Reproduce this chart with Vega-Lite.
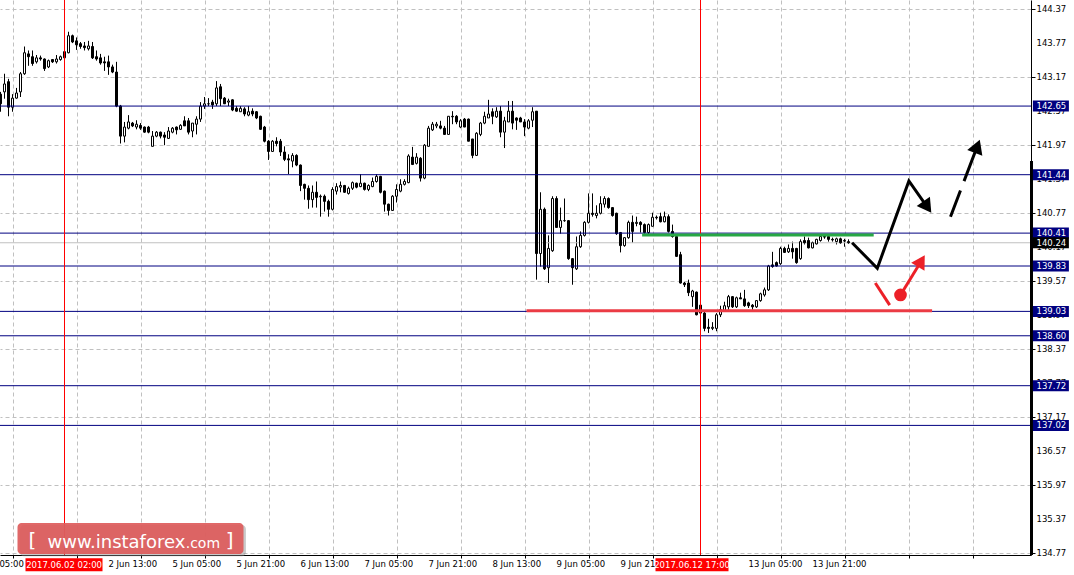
{
"$schema": "https://vega.github.io/schema/vega-lite/v6.json",
"width": 1031,
"height": 555,
"autosize": {"type": "none"},
"padding": {"left": 0, "top": 0, "right": 43, "bottom": 20},
"background": "white",
"config": {
 "view": {"stroke": null},
 "text": {"font": "DejaVu Sans"},
 "scale": {"continuousPadding": 0},
 "axis": {"labels": false, "title": null, "gridColor": "#c0c0c0", "gridDash": [4,3], "gridWidth": 1, "domainColor": "black", "domainWidth": 1, "tickColor": "black"},
 "axisX": {"tickSize": 3},
 "axisY": {"tickSize": 4}
},
"datasets": {
"candles": [
{"i":0,"o":142.86,"h":142.90,"l":142.55,"c":142.69},
{"i":1,"o":142.90,"h":143.22,"l":142.78,"c":143.04},
{"i":2,"o":143.08,"h":143.13,"l":142.47,"c":142.63},
{"i":3,"o":142.63,"h":142.86,"l":142.55,"c":142.79},
{"i":4,"o":142.79,"h":142.97,"l":142.78,"c":142.88},
{"i":5,"o":142.90,"h":143.25,"l":142.81,"c":143.22},
{"i":6,"o":143.22,"h":143.70,"l":143.20,"c":143.59},
{"i":7,"o":143.57,"h":143.63,"l":143.36,"c":143.52},
{"i":8,"o":143.52,"h":143.63,"l":143.36,"c":143.40},
{"i":9,"o":143.43,"h":143.55,"l":143.40,"c":143.50},
{"i":10,"o":143.50,"h":143.54,"l":143.45,"c":143.48},
{"i":11,"o":143.48,"h":143.49,"l":143.27,"c":143.31},
{"i":12,"o":143.34,"h":143.47,"l":143.32,"c":143.45},
{"i":13,"o":143.47,"h":143.48,"l":143.41,"c":143.43},
{"i":14,"o":143.43,"h":143.55,"l":143.40,"c":143.48},
{"i":15,"o":143.47,"h":143.54,"l":143.45,"c":143.52},
{"i":16,"o":143.50,"h":143.63,"l":143.48,"c":143.61},
{"i":17,"o":143.59,"h":143.96,"l":143.58,"c":143.89},
{"i":18,"o":143.89,"h":143.91,"l":143.76,"c":143.78},
{"i":19,"o":143.80,"h":143.86,"l":143.64,"c":143.73},
{"i":20,"o":143.75,"h":143.78,"l":143.66,"c":143.70},
{"i":21,"o":143.71,"h":143.78,"l":143.63,"c":143.68},
{"i":22,"o":143.66,"h":143.80,"l":143.63,"c":143.71},
{"i":23,"o":143.70,"h":143.78,"l":143.48,"c":143.50},
{"i":24,"o":143.52,"h":143.63,"l":143.45,"c":143.48},
{"i":25,"o":143.50,"h":143.57,"l":143.38,"c":143.41},
{"i":26,"o":143.43,"h":143.52,"l":143.27,"c":143.41},
{"i":27,"o":143.43,"h":143.54,"l":143.20,"c":143.34},
{"i":28,"o":143.34,"h":143.38,"l":143.23,"c":143.25},
{"i":29,"o":143.25,"h":143.43,"l":142.63,"c":142.65},
{"i":30,"o":142.65,"h":142.67,"l":141.99,"c":142.12},
{"i":31,"o":142.12,"h":142.37,"l":142.01,"c":142.28},
{"i":32,"o":142.26,"h":142.49,"l":142.24,"c":142.37},
{"i":33,"o":142.35,"h":142.37,"l":142.28,"c":142.30},
{"i":34,"o":142.28,"h":142.40,"l":142.24,"c":142.33},
{"i":35,"o":142.31,"h":142.35,"l":142.23,"c":142.26},
{"i":36,"o":142.28,"h":142.29,"l":142.18,"c":142.19},
{"i":37,"o":142.28,"h":142.30,"l":142.17,"c":142.19},
{"i":38,"o":141.94,"h":142.21,"l":141.94,"c":142.12},
{"i":39,"o":142.12,"h":142.21,"l":142.10,"c":142.19},
{"i":40,"o":142.19,"h":142.20,"l":142.08,"c":142.12},
{"i":41,"o":142.14,"h":142.19,"l":141.96,"c":142.10},
{"i":42,"o":142.08,"h":142.28,"l":142.07,"c":142.21},
{"i":43,"o":142.19,"h":142.28,"l":142.17,"c":142.26},
{"i":44,"o":142.28,"h":142.29,"l":142.15,"c":142.23},
{"i":45,"o":142.24,"h":142.33,"l":142.23,"c":142.31},
{"i":46,"o":142.39,"h":142.47,"l":142.30,"c":142.30},
{"i":47,"o":142.39,"h":142.44,"l":142.15,"c":142.19},
{"i":48,"o":142.21,"h":142.35,"l":142.10,"c":142.35},
{"i":49,"o":142.33,"h":142.47,"l":142.15,"c":142.42},
{"i":50,"o":142.42,"h":142.72,"l":142.37,"c":142.65},
{"i":51,"o":142.65,"h":142.81,"l":142.60,"c":142.69},
{"i":52,"o":142.69,"h":142.79,"l":142.65,"c":142.69},
{"i":53,"o":142.72,"h":142.76,"l":142.60,"c":142.67},
{"i":54,"o":142.69,"h":143.09,"l":142.65,"c":142.97},
{"i":55,"o":142.99,"h":143.04,"l":142.65,"c":142.78},
{"i":56,"o":142.79,"h":142.81,"l":142.69,"c":142.69},
{"i":57,"o":142.72,"h":142.78,"l":142.65,"c":142.74},
{"i":58,"o":142.76,"h":142.77,"l":142.56,"c":142.58},
{"i":59,"o":142.61,"h":142.65,"l":142.55,"c":142.56},
{"i":60,"o":142.55,"h":142.65,"l":142.55,"c":142.61},
{"i":61,"o":142.60,"h":142.63,"l":142.47,"c":142.51},
{"i":62,"o":142.49,"h":142.65,"l":142.47,"c":142.55},
{"i":63,"o":142.56,"h":142.61,"l":142.47,"c":142.51},
{"i":64,"o":142.55,"h":142.56,"l":142.42,"c":142.44},
{"i":65,"o":142.47,"h":142.48,"l":142.23,"c":142.24},
{"i":66,"o":142.28,"h":142.30,"l":142.01,"c":142.03},
{"i":67,"o":142.03,"h":142.05,"l":141.70,"c":141.85},
{"i":68,"o":141.85,"h":142.05,"l":141.84,"c":142.03},
{"i":69,"o":142.03,"h":142.10,"l":141.94,"c":141.99},
{"i":70,"o":142.03,"h":142.07,"l":141.77,"c":141.84},
{"i":71,"o":141.84,"h":141.94,"l":141.68,"c":141.71},
{"i":72,"o":141.72,"h":141.80,"l":141.45,"c":141.70},
{"i":73,"o":141.68,"h":141.82,"l":141.57,"c":141.78},
{"i":74,"o":141.78,"h":141.80,"l":141.59,"c":141.61},
{"i":75,"o":141.61,"h":141.62,"l":141.15,"c":141.25},
{"i":76,"o":141.27,"h":141.28,"l":141.00,"c":141.20},
{"i":77,"o":141.20,"h":141.25,"l":140.84,"c":141.00},
{"i":78,"o":141.00,"h":141.25,"l":140.86,"c":141.13},
{"i":79,"o":141.13,"h":141.32,"l":140.86,"c":141.04},
{"i":80,"o":141.05,"h":141.09,"l":140.70,"c":141.06},
{"i":81,"o":141.06,"h":141.09,"l":140.79,"c":140.97},
{"i":82,"o":140.97,"h":141.00,"l":140.70,"c":140.83},
{"i":83,"o":140.83,"h":141.22,"l":140.81,"c":141.18},
{"i":84,"o":141.15,"h":141.29,"l":141.09,"c":141.23},
{"i":85,"o":141.22,"h":141.32,"l":141.13,"c":141.25},
{"i":86,"o":141.25,"h":141.26,"l":141.12,"c":141.13},
{"i":87,"o":141.11,"h":141.23,"l":141.09,"c":141.20},
{"i":88,"o":141.20,"h":141.32,"l":141.17,"c":141.30},
{"i":89,"o":141.29,"h":141.30,"l":141.20,"c":141.22},
{"i":90,"o":141.23,"h":141.45,"l":141.22,"c":141.29},
{"i":91,"o":141.29,"h":141.30,"l":141.16,"c":141.18},
{"i":92,"o":141.18,"h":141.27,"l":141.15,"c":141.25},
{"i":93,"o":141.23,"h":141.39,"l":141.22,"c":141.32},
{"i":94,"o":141.32,"h":141.45,"l":141.30,"c":141.41},
{"i":95,"o":141.41,"h":141.42,"l":141.11,"c":141.13},
{"i":96,"o":141.15,"h":141.16,"l":140.79,"c":140.92},
{"i":97,"o":140.92,"h":140.93,"l":140.72,"c":140.81},
{"i":98,"o":140.81,"h":141.08,"l":140.80,"c":141.06},
{"i":99,"o":141.06,"h":141.27,"l":140.95,"c":141.18},
{"i":100,"o":141.15,"h":141.36,"l":141.13,"c":141.27},
{"i":101,"o":141.27,"h":141.36,"l":141.25,"c":141.32},
{"i":102,"o":141.30,"h":141.80,"l":141.29,"c":141.77},
{"i":103,"o":141.75,"h":141.93,"l":141.61,"c":141.62},
{"i":104,"o":141.64,"h":141.82,"l":141.62,"c":141.75},
{"i":105,"o":141.73,"h":141.75,"l":141.32,"c":141.38},
{"i":106,"o":141.38,"h":141.98,"l":141.36,"c":141.96},
{"i":107,"o":141.94,"h":142.30,"l":141.94,"c":142.26},
{"i":108,"o":142.23,"h":142.37,"l":142.21,"c":142.33},
{"i":109,"o":142.30,"h":142.37,"l":142.26,"c":142.33},
{"i":110,"o":142.30,"h":142.39,"l":142.24,"c":142.26},
{"i":111,"o":142.26,"h":142.30,"l":142.14,"c":142.15},
{"i":112,"o":142.15,"h":142.47,"l":142.15,"c":142.47},
{"i":113,"o":142.47,"h":142.56,"l":142.33,"c":142.46},
{"i":114,"o":142.47,"h":142.49,"l":142.33,"c":142.37},
{"i":115,"o":142.28,"h":142.42,"l":142.26,"c":142.39},
{"i":116,"o":142.42,"h":142.44,"l":142.28,"c":142.28},
{"i":117,"o":142.42,"h":142.43,"l":142.03,"c":142.03},
{"i":118,"o":142.07,"h":142.07,"l":141.73,"c":141.78},
{"i":119,"o":141.78,"h":142.19,"l":141.77,"c":142.17},
{"i":120,"o":142.15,"h":142.37,"l":142.12,"c":142.35},
{"i":121,"o":142.35,"h":142.55,"l":142.33,"c":142.47},
{"i":122,"o":142.44,"h":142.76,"l":142.44,"c":142.51},
{"i":123,"o":142.55,"h":142.61,"l":142.33,"c":142.47},
{"i":124,"o":142.46,"h":142.63,"l":142.44,"c":142.56},
{"i":125,"o":142.56,"h":142.65,"l":142.10,"c":142.19},
{"i":126,"o":142.19,"h":142.46,"l":141.91,"c":142.39},
{"i":127,"o":142.37,"h":142.74,"l":142.37,"c":142.56},
{"i":128,"o":142.56,"h":142.74,"l":142.24,"c":142.35},
{"i":129,"o":142.44,"h":142.45,"l":142.23,"c":142.40},
{"i":130,"o":142.44,"h":142.46,"l":142.37,"c":142.37},
{"i":131,"o":142.37,"h":142.42,"l":142.12,"c":142.28},
{"i":132,"o":142.26,"h":142.42,"l":142.24,"c":142.39},
{"i":133,"o":142.40,"h":142.63,"l":142.28,"c":142.55},
{"i":134,"o":142.56,"h":142.56,"l":139.59,"c":140.05},
{"i":135,"o":140.05,"h":141.13,"l":139.82,"c":140.83},
{"i":136,"o":140.83,"h":140.86,"l":139.76,"c":139.78},
{"i":137,"o":139.80,"h":140.37,"l":139.53,"c":140.14},
{"i":138,"o":140.10,"h":141.06,"l":140.08,"c":141.02},
{"i":139,"o":141.02,"h":141.06,"l":140.51,"c":140.51},
{"i":140,"o":140.51,"h":140.86,"l":140.40,"c":140.63},
{"i":141,"o":140.63,"h":141.02,"l":140.61,"c":140.63},
{"i":142,"o":140.63,"h":140.64,"l":139.94,"c":139.96},
{"i":143,"o":139.96,"h":139.97,"l":139.50,"c":139.80},
{"i":144,"o":139.78,"h":140.35,"l":139.76,"c":140.17},
{"i":145,"o":140.17,"h":140.44,"l":140.15,"c":140.37},
{"i":146,"o":140.37,"h":140.62,"l":140.35,"c":140.60},
{"i":147,"o":140.60,"h":141.11,"l":140.58,"c":140.76},
{"i":148,"o":140.76,"h":141.11,"l":140.70,"c":140.74},
{"i":149,"o":140.72,"h":140.90,"l":140.67,"c":140.76},
{"i":150,"o":140.76,"h":141.06,"l":140.74,"c":140.93},
{"i":151,"o":140.92,"h":141.06,"l":140.86,"c":141.02},
{"i":152,"o":141.02,"h":141.04,"l":140.84,"c":140.86},
{"i":153,"o":140.86,"h":140.87,"l":140.70,"c":140.72},
{"i":154,"o":140.76,"h":140.77,"l":140.38,"c":140.40},
{"i":155,"o":140.42,"h":140.43,"l":140.07,"c":140.19},
{"i":156,"o":140.19,"h":140.34,"l":140.17,"c":140.33},
{"i":157,"o":140.33,"h":140.63,"l":140.31,"c":140.60},
{"i":158,"o":140.60,"h":140.72,"l":140.24,"c":140.44},
{"i":159,"o":140.58,"h":140.70,"l":140.53,"c":140.60},
{"i":160,"o":140.60,"h":140.62,"l":140.42,"c":140.56},
{"i":161,"o":140.56,"h":140.58,"l":140.40,"c":140.42},
{"i":162,"o":140.42,"h":140.58,"l":140.38,"c":140.56},
{"i":163,"o":140.53,"h":140.77,"l":140.53,"c":140.69},
{"i":164,"o":140.69,"h":140.72,"l":140.65,"c":140.68},
{"i":165,"o":140.70,"h":140.77,"l":140.60,"c":140.61},
{"i":166,"o":140.61,"h":140.79,"l":140.60,"c":140.70},
{"i":167,"o":140.70,"h":140.74,"l":140.42,"c":140.44},
{"i":168,"o":140.44,"h":140.56,"l":140.33,"c":140.35},
{"i":169,"o":140.35,"h":140.36,"l":139.99,"c":140.00},
{"i":170,"o":140.03,"h":140.08,"l":139.52,"c":139.53},
{"i":171,"o":139.53,"h":139.55,"l":139.46,"c":139.50},
{"i":172,"o":139.53,"h":139.59,"l":139.30,"c":139.36},
{"i":173,"o":139.29,"h":139.41,"l":139.11,"c":139.39},
{"i":174,"o":139.37,"h":139.38,"l":138.96,"c":138.97},
{"i":175,"o":139.14,"h":139.16,"l":138.98,"c":139.00},
{"i":176,"o":139.00,"h":139.02,"l":138.68,"c":138.73},
{"i":177,"o":138.75,"h":138.90,"l":138.65,"c":138.73},
{"i":178,"o":138.73,"h":138.84,"l":138.70,"c":138.75},
{"i":179,"o":138.73,"h":139.00,"l":138.68,"c":138.97},
{"i":180,"o":138.97,"h":139.13,"l":138.93,"c":139.06},
{"i":181,"o":139.04,"h":139.20,"l":139.02,"c":139.13},
{"i":182,"o":139.11,"h":139.32,"l":139.06,"c":139.29},
{"i":183,"o":139.29,"h":139.30,"l":139.09,"c":139.11},
{"i":184,"o":139.11,"h":139.29,"l":139.09,"c":139.27},
{"i":185,"o":139.27,"h":139.36,"l":139.25,"c":139.25},
{"i":186,"o":139.25,"h":139.41,"l":139.11,"c":139.13},
{"i":187,"o":139.18,"h":139.20,"l":139.09,"c":139.13},
{"i":188,"o":139.14,"h":139.16,"l":139.06,"c":139.11},
{"i":189,"o":139.11,"h":139.23,"l":139.09,"c":139.22},
{"i":190,"o":139.22,"h":139.36,"l":139.20,"c":139.34},
{"i":191,"o":139.32,"h":139.45,"l":139.29,"c":139.41},
{"i":192,"o":139.41,"h":139.85,"l":139.39,"c":139.83},
{"i":193,"o":139.85,"h":140.08,"l":139.80,"c":139.82},
{"i":194,"o":139.89,"h":139.91,"l":139.82,"c":139.83},
{"i":195,"o":139.87,"h":140.17,"l":139.85,"c":140.14},
{"i":196,"o":140.14,"h":140.17,"l":140.06,"c":140.07},
{"i":197,"o":140.08,"h":140.21,"l":140.06,"c":140.14},
{"i":198,"o":140.14,"h":140.26,"l":139.96,"c":140.08},
{"i":199,"o":140.14,"h":140.15,"l":139.87,"c":139.89},
{"i":200,"o":139.96,"h":140.30,"l":139.94,"c":140.26},
{"i":201,"o":140.28,"h":140.35,"l":140.21,"c":140.24},
{"i":202,"o":140.28,"h":140.33,"l":140.14,"c":140.15},
{"i":203,"o":140.15,"h":140.26,"l":140.14,"c":140.24},
{"i":204,"o":140.22,"h":140.31,"l":140.21,"c":140.30},
{"i":205,"o":140.28,"h":140.37,"l":140.26,"c":140.35},
{"i":206,"o":140.35,"h":140.37,"l":140.31,"c":140.34},
{"i":207,"o":140.35,"h":140.37,"l":140.26,"c":140.30},
{"i":208,"o":140.30,"h":140.33,"l":140.26,"c":140.29},
{"i":209,"o":140.26,"h":140.33,"l":140.21,"c":140.31},
{"i":210,"o":140.31,"h":140.33,"l":140.22,"c":140.24},
{"i":211,"o":140.27,"h":140.31,"l":140.17,"c":140.28},
{"i":212,"o":140.26,"h":140.30,"l":140.22,"c":140.24}
],
"levels": [{"p":142.65},{"p":141.44},{"p":140.41},{"p":139.83},{"p":139.03},{"p":138.60},{"p":137.72},{"p":137.02}],
"bid": [{"p":140.24}],
"ylabels": [{"p":144.37},{"p":143.77},{"p":143.17},{"p":142.57},{"p":141.97},{"p":141.37},{"p":140.77},{"p":140.17},{"p":139.57},{"p":138.97},{"p":138.37},{"p":137.77},{"p":137.17},{"p":136.57},{"p":135.97},{"p":135.37},{"p":134.77}],
"xlabels": [{"i":-6.3,"t":"1 Jun 05:00"},{"i":27,"t":"2 Jun 13:00"},{"i":43,"t":"5 Jun 05:00"},{"i":59,"t":"5 Jun 21:00"},{"i":75,"t":"6 Jun 13:00"},{"i":91,"t":"7 Jun 05:00"},{"i":107,"t":"7 Jun 21:00"},{"i":123,"t":"8 Jun 13:00"},{"i":139,"t":"9 Jun 05:00"},{"i":155,"t":"9 Jun 21:00"},{"i":187,"t":"13 Jun 05:00"},{"i":203,"t":"13 Jun 21:00"}],
"vlines": [{"i":16},{"i":175}],
"dateboxes": [{"i0":6.25,"i1":25.5,"ic":15.9,"t":"2017.06.02 02:00"},{"i0":163.75,"i1":182,"ic":172.9,"t":"2017.06.12 17:00"}],
"levelsegs": [{"i":160.4,"i2":218.3,"p":140.377,"kind":"resistance"},{"i":131.5,"i2":232.9,"p":139.042,"kind":"support"}],
"trend": [{"k":0,"i":212.9,"p":140.24},{"k":1,"i":219.2,"p":139.79},{"k":2,"i":227.1,"p":141.33},{"k":3,"i":231.7,"p":140.87}],
"trend2": [{"k":0,"i":237.5,"p":140.70},{"k":1,"i":244.2,"p":141.94}],
"redlines": [{"g":"a","k":0,"i":218.7,"p":139.53},{"g":"a","k":1,"i":222.3,"p":139.14},{"g":"b","k":0,"i":225,"p":139.32},{"g":"b","k":1,"i":230.2,"p":139.92}],
"heads": [{"name":"trend","i":231.7,"p":140.87},{"name":"trend2","i":244.2,"p":141.94},{"name":"red","i":230.2,"p":139.92}],
"dot": [{"i":225,"p":139.32}],
"one": [{"label":"instaforex"}]
},
"layer": [
{"data":{"name":"candles"},"mark":{"type":"rule","color":"black","strokeWidth":1},
 "encoding":{
  "x":{"field":"i","type":"quantitative","scale":{"domain":[-0.125,257.625],"nice":false,"zero":false,"padding":0},
   "axis":{"orient":"bottom","title":null,"labels":false,"values":[3,11,19,27,35,43,51,59,67,75,83,91,99,107,115,123,131,139,147,155,163,171,179,187,195,203,211,219,227,235,243,251],"grid":true,"tickSize":3}},
  "y":{"field":"l","type":"quantitative","scale":{"domain":[134.735,144.52],"nice":false,"zero":false,"padding":0},
   "axis":{"orient":"right","title":null,"labels":false,"values":[144.37,143.77,143.17,142.57,141.97,141.37,140.77,140.17,139.57,138.97,138.37,137.77,137.17,136.57,135.97,135.37,134.77],"grid":true,"tickSize":4}},
  "y2":{"field":"h"}}},
{"data":{"name":"bid"},"mark":{"type":"rule","color":"#c0c0c0","strokeWidth":1},
 "encoding":{"y":{"field":"p","type":"quantitative","scale":{"domain":[134.735,144.52],"nice":false,"zero":false,"padding":0},"axis":{"title":null,"labels":false}}}},
{"data":{"name":"candles"},"mark":{"type":"bar","size":2,"stroke":"black","strokeWidth":1},
 "encoding":{
  "x":{"field":"i","type":"quantitative","scale":{"domain":[-0.125,257.625],"nice":false,"zero":false,"padding":0},"axis":{"title":null,"labels":false}},
  "y":{"field":"o","type":"quantitative","scale":{"domain":[134.735,144.52],"nice":false,"zero":false,"padding":0},"axis":{"title":null,"labels":false}},
  "y2":{"field":"c"},
  "fill":{"condition":{"test":"datum.c >= datum.o","value":"white"},"value":"black"}}},
{"data":{"name":"levels"},"mark":{"type":"rule","color":"#000080","strokeWidth":1},
 "encoding":{"y":{"field":"p","type":"quantitative","scale":{"domain":[134.735,144.52],"nice":false,"zero":false,"padding":0},"axis":{"title":null,"labels":false}}}},
{"data":{"name":"vlines"},"mark":{"type":"rule","color":"#ff0000","strokeWidth":1},
 "encoding":{"x":{"field":"i","type":"quantitative","scale":{"domain":[-0.125,257.625],"nice":false,"zero":false,"padding":0},"axis":{"title":null,"labels":false}}}},
{"data":{"name":"levelsegs"},"mark":{"type":"rule","strokeWidth":3},
 "encoding":{
  "x":{"field":"i","type":"quantitative","scale":{"domain":[-0.125,257.625],"nice":false,"zero":false,"padding":0},"axis":{"title":null,"labels":false}},
  "x2":{"field":"i2"},
  "y":{"field":"p","type":"quantitative","scale":{"domain":[134.735,144.52],"nice":false,"zero":false,"padding":0},"axis":{"title":null,"labels":false}},
  "color":{"field":"kind","type":"nominal","scale":{"domain":["resistance","support"],"range":["#27a844","#eb3b45"]},"legend":null}}},
{"data":{"name":"trend"},"mark":{"type":"line","color":"black","strokeWidth":3,"strokeJoin":"miter"},
 "encoding":{
  "x":{"field":"i","type":"quantitative","scale":{"domain":[-0.125,257.625],"nice":false,"zero":false,"padding":0},"axis":{"title":null,"labels":false}},
  "y":{"field":"p","type":"quantitative","scale":{"domain":[134.735,144.52],"nice":false,"zero":false,"padding":0},"axis":{"title":null,"labels":false}},
  "order":{"field":"k"}}},
{"data":{"name":"trend2"},"mark":{"type":"line","color":"black","strokeWidth":3,"strokeDash":[28,10,100,10]},
 "encoding":{
  "x":{"field":"i","type":"quantitative","scale":{"domain":[-0.125,257.625],"nice":false,"zero":false,"padding":0},"axis":{"title":null,"labels":false}},
  "y":{"field":"p","type":"quantitative","scale":{"domain":[134.735,144.52],"nice":false,"zero":false,"padding":0},"axis":{"title":null,"labels":false}},
  "order":{"field":"k"}}},
{"data":{"name":"redlines"},"mark":{"type":"line","color":"#ec2028","strokeWidth":3},
 "encoding":{
  "x":{"field":"i","type":"quantitative","scale":{"domain":[-0.125,257.625],"nice":false,"zero":false,"padding":0},"axis":{"title":null,"labels":false}},
  "y":{"field":"p","type":"quantitative","scale":{"domain":[134.735,144.52],"nice":false,"zero":false,"padding":0},"axis":{"title":null,"labels":false}},
  "detail":{"field":"g"},
  "order":{"field":"k"}}},
{"data":{"name":"heads"},"transform":[{"filter":"datum.name == 'trend'"}],
 "mark":{"type":"point","shape":"triangle-up","filled":true,"color":"black","opacity":1,"size":260,"angle":145},
 "encoding":{
  "x":{"field":"i","type":"quantitative","scale":{"domain":[-0.125,257.625],"nice":false,"zero":false,"padding":0},"axis":{"title":null,"labels":false}},
  "y":{"field":"p","type":"quantitative","scale":{"domain":[134.735,144.52],"nice":false,"zero":false,"padding":0},"axis":{"title":null,"labels":false}}}},
{"data":{"name":"heads"},"transform":[{"filter":"datum.name == 'trend2'"}],
 "mark":{"type":"point","shape":"triangle-up","filled":true,"color":"black","opacity":1,"size":260,"angle":21},
 "encoding":{
  "x":{"field":"i","type":"quantitative","scale":{"domain":[-0.125,257.625],"nice":false,"zero":false,"padding":0},"axis":{"title":null,"labels":false}},
  "y":{"field":"p","type":"quantitative","scale":{"domain":[134.735,144.52],"nice":false,"zero":false,"padding":0},"axis":{"title":null,"labels":false}}}},
{"data":{"name":"heads"},"transform":[{"filter":"datum.name == 'red'"}],
 "mark":{"type":"point","shape":"triangle-up","filled":true,"color":"#ec2028","opacity":1,"size":240,"angle":31},
 "encoding":{
  "x":{"field":"i","type":"quantitative","scale":{"domain":[-0.125,257.625],"nice":false,"zero":false,"padding":0},"axis":{"title":null,"labels":false}},
  "y":{"field":"p","type":"quantitative","scale":{"domain":[134.735,144.52],"nice":false,"zero":false,"padding":0},"axis":{"title":null,"labels":false}}}},
{"data":{"name":"dot"},"mark":{"type":"point","shape":"circle","filled":true,"color":"#ec2028","opacity":1,"size":160},
 "encoding":{
  "x":{"field":"i","type":"quantitative","scale":{"domain":[-0.125,257.625],"nice":false,"zero":false,"padding":0},"axis":{"title":null,"labels":false}},
  "y":{"field":"p","type":"quantitative","scale":{"domain":[134.735,144.52],"nice":false,"zero":false,"padding":0},"axis":{"title":null,"labels":false}}}},
{"data":{"name":"one"},"mark":{"type":"rule","color":"black","strokeWidth":3},
 "encoding":{
  "x":{"datum":257.75,"type":"quantitative","scale":{"domain":[-0.125,257.625],"nice":false,"zero":false,"padding":0},"axis":{"title":null,"labels":false}},
  "y":{"datum":141.68,"type":"quantitative","scale":{"domain":[134.735,144.52],"nice":false,"zero":false,"padding":0},"axis":{"title":null,"labels":false}},
  "y2":{"datum":134.735}}},
{"data":{"name":"ylabels"},"mark":{"type":"text","color":"black","font":"DejaVu Sans","fontSize":8.5,"align":"left","baseline":"middle"},
 "encoding":{
  "x":{"datum":259.0,"type":"quantitative","scale":{"domain":[-0.125,257.625],"nice":false,"zero":false,"padding":0},"axis":{"title":null,"labels":false}},
  "y":{"field":"p","type":"quantitative","scale":{"domain":[134.735,144.52],"nice":false,"zero":false,"padding":0},"axis":{"title":null,"labels":false}},
  "text":{"field":"p","type":"quantitative","format":".2f"}}},
{"data":{"name":"xlabels"},"mark":{"type":"text","color":"black","font":"DejaVu Sans","fontSize":8.5,"align":"left","baseline":"top"},
 "encoding":{
  "x":{"field":"i","type":"quantitative","scale":{"domain":[-0.125,257.625],"nice":false,"zero":false,"padding":0},"axis":{"title":null,"labels":false}},
  "y":{"datum":134.647,"type":"quantitative","scale":{"domain":[134.735,144.52],"nice":false,"zero":false,"padding":0},"axis":{"title":null,"labels":false}},
  "text":{"field":"t"}}},
{"data":{"name":"levels"},"mark":{"type":"bar","color":"#000080","size":11},
 "encoding":{
  "x":{"datum":258.1,"type":"quantitative","scale":{"domain":[-0.125,257.625],"nice":false,"zero":false,"padding":0},"axis":{"title":null,"labels":false}},
  "x2":{"datum":267.1},
  "y":{"field":"p","type":"quantitative","scale":{"domain":[134.735,144.52],"nice":false,"zero":false,"padding":0},"axis":{"title":null,"labels":false}}}},
{"data":{"name":"levels"},"mark":{"type":"text","color":"white","font":"DejaVu Sans","fontSize":8.5,"align":"left","baseline":"middle"},
 "encoding":{
  "x":{"datum":259.0,"type":"quantitative","scale":{"domain":[-0.125,257.625],"nice":false,"zero":false,"padding":0},"axis":{"title":null,"labels":false}},
  "y":{"field":"p","type":"quantitative","scale":{"domain":[134.735,144.52],"nice":false,"zero":false,"padding":0},"axis":{"title":null,"labels":false}},
  "text":{"field":"p","type":"quantitative","format":".2f"}}},
{"data":{"name":"bid"},"mark":{"type":"bar","color":"black","size":11},
 "encoding":{
  "x":{"datum":258.1,"type":"quantitative","scale":{"domain":[-0.125,257.625],"nice":false,"zero":false,"padding":0},"axis":{"title":null,"labels":false}},
  "x2":{"datum":267.1},
  "y":{"field":"p","type":"quantitative","scale":{"domain":[134.735,144.52],"nice":false,"zero":false,"padding":0},"axis":{"title":null,"labels":false}}}},
{"data":{"name":"bid"},"mark":{"type":"text","color":"white","font":"DejaVu Sans","fontSize":8.5,"align":"left","baseline":"middle"},
 "encoding":{
  "x":{"datum":259.0,"type":"quantitative","scale":{"domain":[-0.125,257.625],"nice":false,"zero":false,"padding":0},"axis":{"title":null,"labels":false}},
  "y":{"field":"p","type":"quantitative","scale":{"domain":[134.735,144.52],"nice":false,"zero":false,"padding":0},"axis":{"title":null,"labels":false}},
  "text":{"field":"p","type":"quantitative","format":".2f"}}},
{"data":{"name":"dateboxes"},"mark":{"type":"bar","color":"#ff0000","size":13},
 "encoding":{
  "x":{"field":"i0","type":"quantitative","scale":{"domain":[-0.125,257.625],"nice":false,"zero":false,"padding":0},"axis":{"title":null,"labels":false}},
  "x2":{"field":"i1"},
  "y":{"datum":134.565,"type":"quantitative","scale":{"domain":[134.735,144.52],"nice":false,"zero":false,"padding":0},"axis":{"title":null,"labels":false}}}},
{"data":{"name":"dateboxes"},"mark":{"type":"text","color":"white","font":"DejaVu Sans","fontSize":8.5,"align":"center","baseline":"middle"},
 "encoding":{
  "x":{"field":"ic","type":"quantitative","scale":{"domain":[-0.125,257.625],"nice":false,"zero":false,"padding":0},"axis":{"title":null,"labels":false}},
  "y":{"datum":134.565,"type":"quantitative","scale":{"domain":[134.735,144.52],"nice":false,"zero":false,"padding":0},"axis":{"title":null,"labels":false}},
  "text":{"field":"t"}}},
{"data":{"name":"one"},"mark":{"type":"rect","color":"#888888","opacity":0.45,"cornerRadius":4},
 "encoding":{
  "x":{"datum":4.85,"type":"quantitative","scale":{"domain":[-0.125,257.625],"nice":false,"zero":false,"padding":0},"axis":{"title":null,"labels":false}},
  "x2":{"datum":61.35},
  "y":{"datum":135.265,"type":"quantitative","scale":{"domain":[134.735,144.52],"nice":false,"zero":false,"padding":0},"axis":{"title":null,"labels":false}},
  "y2":{"datum":134.715}}},
{"data":{"name":"one"},"mark":{"type":"rect","color":"#de5c5c","opacity":0.93,"cornerRadius":4},
 "encoding":{
  "x":{"datum":4.25,"type":"quantitative","scale":{"domain":[-0.125,257.625],"nice":false,"zero":false,"padding":0},"axis":{"title":null,"labels":false}},
  "x2":{"datum":60.75},
  "y":{"datum":135.3,"type":"quantitative","scale":{"domain":[134.735,144.52],"nice":false,"zero":false,"padding":0},"axis":{"title":null,"labels":false}},
  "y2":{"datum":134.753}}},
{"data":{"name":"one"},"mark":{"type":"text","text":"[","color":"white","font":"DejaVu Sans","fontSize":20,"align":"left","baseline":"alphabetic"},
 "encoding":{
  "x":{"datum":7.0,"type":"quantitative","scale":{"domain":[-0.125,257.625],"nice":false,"zero":false,"padding":0},"axis":{"title":null,"labels":false}},
  "y":{"datum":134.87,"type":"quantitative","scale":{"domain":[134.735,144.52],"nice":false,"zero":false,"padding":0},"axis":{"title":null,"labels":false}}}},
{"data":{"name":"one"},"mark":{"type":"text","text":"www.instaforex","color":"white","font":"DejaVu Sans","fontSize":18,"align":"left","baseline":"alphabetic"},
 "encoding":{
  "x":{"datum":11.75,"type":"quantitative","scale":{"domain":[-0.125,257.625],"nice":false,"zero":false,"padding":0},"axis":{"title":null,"labels":false}},
  "y":{"datum":134.858,"type":"quantitative","scale":{"domain":[134.735,144.52],"nice":false,"zero":false,"padding":0},"axis":{"title":null,"labels":false}}}},
{"data":{"name":"one"},"mark":{"type":"text","text":".com","color":"white","font":"DejaVu Sans","fontSize":14,"align":"left","baseline":"alphabetic"},
 "encoding":{
  "x":{"datum":46.3,"type":"quantitative","scale":{"domain":[-0.125,257.625],"nice":false,"zero":false,"padding":0},"axis":{"title":null,"labels":false}},
  "y":{"datum":134.858,"type":"quantitative","scale":{"domain":[134.735,144.52],"nice":false,"zero":false,"padding":0},"axis":{"title":null,"labels":false}}}},
{"data":{"name":"one"},"mark":{"type":"text","text":"]","color":"white","font":"DejaVu Sans","fontSize":20,"align":"left","baseline":"alphabetic"},
 "encoding":{
  "x":{"datum":56.3,"type":"quantitative","scale":{"domain":[-0.125,257.625],"nice":false,"zero":false,"padding":0},"axis":{"title":null,"labels":false}},
  "y":{"datum":134.87,"type":"quantitative","scale":{"domain":[134.735,144.52],"nice":false,"zero":false,"padding":0},"axis":{"title":null,"labels":false}}}}
]
}
